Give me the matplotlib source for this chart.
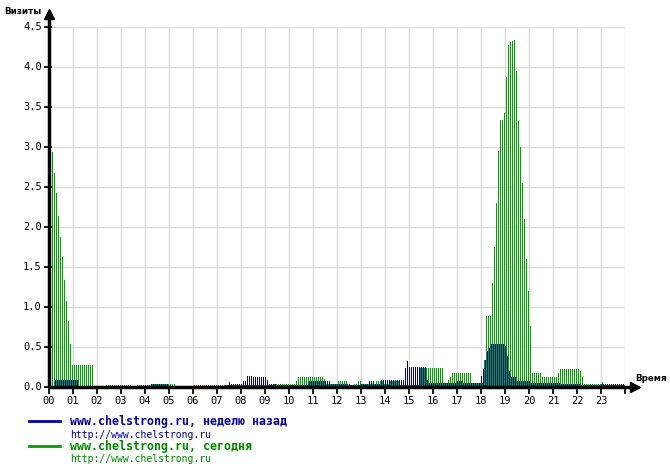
import numpy as np
import matplotlib
matplotlib.use("Agg")
import matplotlib.pyplot as plt

# visits per 5-minute slot, written as (value, number of slots) runs
today_runs = [(3.22, 1), (2.94, 1), (2.68, 1), (2.42, 1), (2.14, 1), (1.87, 1),
              (1.62, 1), (1.34, 1), (1.08, 1), (0.82, 1), (0.54, 1), (0.28, 11),
              (0.01, 6), (0.03, 13), (0.01, 10), (0.04, 12), (0.01, 9), (0.03, 19),
              (0.02, 21), (0.04, 11), (0.07, 1), (0.13, 13), (0.10, 1), (0.04, 6),
              (0.07, 5), (0.03, 3), (0.04, 2), (0.07, 2), (0.04, 7), (0.08, 4),
              (0.04, 3), (0.07, 5), (0.03, 10), (0.24, 12), (0.05, 2), (0.09, 1),
              (0.13, 1), (0.17, 10), (0.05, 6), (0.34, 1), (0.89, 3),
              (1.30, 1), (1.75, 1), (2.30, 1), (2.95, 1),
              (3.34, 1), (3.34, 1), (3.42, 1), (3.87, 1), (4.28, 1), (4.31, 1),
              (4.33, 1), (4.34, 1), (3.95, 1), (3.33, 1),
              (3.00, 1), (2.55, 1), (2.10, 1), (1.60, 1), (1.20, 1), (0.76, 1),
              (0.18, 5), (0.12, 8), (0.17, 1), (0.23, 10), (0.20, 1), (0.13, 1),
              (0.04, 9), (0.06, 1), (0.02, 11)]

week_runs = [(0.01, 3), (0.09, 12), (0.01, 29), (0.02, 7), (0.04, 9), (0.01, 28),
             (0.03, 2), (0.06, 1), (0.04, 6), (0.08, 2), (0.14, 3), (0.12, 7),
             (0.09, 1), (0.04, 4), (0.03, 16), (0.08, 7), (0.07, 4), (0.04, 10),
             (0.03, 5), (0.04, 4), (0.07, 3), (0.04, 3), (0.09, 12), (0.24, 1),
             (0.32, 1), (0.25, 9), (0.09, 1), (0.05, 14), (0.08, 3), (0.05, 9),
             (0.14, 1), (0.22, 1), (0.34, 1), (0.45, 1), (0.49, 1), (0.54, 7),
             (0.51, 1), (0.39, 1), (0.20, 1), (0.13, 3), (0.07, 7), (0.05, 15),
             (0.04, 10), (0.03, 10), (0.04, 12)]

hour_labels = ["%02d" % h for h in range(24)]
y_ticks = [0.0, 0.5, 1.0, 1.5, 2.0, 2.5, 3.0, 3.5, 4.0, 4.5]


def expand(runs):
    vals = [v for v, n in runs]
    cnts = [n for v, n in runs]
    return np.repeat(vals, cnts)


today = expand(today_runs)
week = expand(week_runs)
slots = np.arange(len(today)) / 12.0

W, H = 670, 469
fig = plt.figure(figsize=(W / 100, H / 100), dpi=100)
fig.patch.set_facecolor("white")
ax = fig.add_axes([49 / W, (H - 387) / H, 576 / W, 360 / H])
ax.set_xlim(0, 24)
ax.set_ylim(0, 4.5)
for s in ax.spines.values():
    s.set_visible(False)
ax.set_xticks([])
ax.set_yticks([])

grey = "#dcdcdc"
for h in range(1, 25):
    ax.axvline(h, color=grey, lw=1, zorder=0)
for y in y_ticks[1:]:
    ax.axhline(y, color=grey, lw=1, zorder=0)

green = "#00a000"
navy = "#0000a0"
ax.bar(slots, week, width=1 / 24, align="edge", color=navy, lw=0,
       antialiased=False, zorder=2)
ax.bar(slots + 1 / 24, today, width=1 / 24, align="edge", color=green, lw=0,
       antialiased=False, zorder=2)

# axes with arrows
ax.plot([0, 0], [0, 4.62], color="black", lw=2.5, clip_on=False, zorder=5,
        solid_capstyle="butt")
ax.plot([0], [4.66], marker="^", ms=7, color="black", clip_on=False, zorder=5)
ax.plot([0, 24.35], [0, 0], color="black", lw=2.5, clip_on=False, zorder=5,
        solid_capstyle="butt")
ax.plot([24.4], [0], marker=">", ms=7, color="black", clip_on=False, zorder=5)

mono = "DejaVu Sans Mono"
for y in y_ticks:
    ax.plot([-0.17, 0.1], [y, y], color="black", lw=1.3, clip_on=False, zorder=5)
    ax.text(-0.3, y, "%.1f" % y, ha="right", va="center", fontsize=7.5,
            family=mono)
for h in range(25):
    ax.plot([h, h], [0, -0.07], color="black", lw=1.3, clip_on=False, zorder=5)
for h, lab in enumerate(hour_labels):
    ax.text(h, -0.18, lab, ha="center", va="center", fontsize=7.5, family=mono)

fig.text(4 / W, 1 - 12 / H, "Визиты", fontsize=6.3, fontweight="bold",
         ha="left", va="center")
fig.text(635 / W, 1 - 378 / H, "Время", fontsize=6.3, fontweight="bold",
         ha="left", va="center")

# legend
fig.add_artist(plt.Line2D([29 / W, 60 / W], [1 - 421 / H] * 2, color=navy, lw=2))
fig.add_artist(plt.Line2D([29 / W, 60 / W], [1 - 446 / H] * 2, color=green, lw=2))
fig.text(70 / W, 1 - 421.5 / H, "www.chelstrong.ru, неделю назад", family=mono,
         fontsize=8.4, fontweight="bold", color="#000099", va="center")
fig.text(70 / W, 1 - 434.5 / H, "http://www.chelstrong.ru", family=mono,
         fontsize=7, color="#000099", va="center")
fig.text(70 / W, 1 - 446 / H, "www.chelstrong.ru, сегодня", family=mono,
         fontsize=8.4, fontweight="bold", color="#008800", va="center")
fig.text(70 / W, 1 - 458.5 / H, "http://www.chelstrong.ru", family=mono,
         fontsize=7, color="#008800", va="center")

fig.savefig("out.png", dpi=100)
